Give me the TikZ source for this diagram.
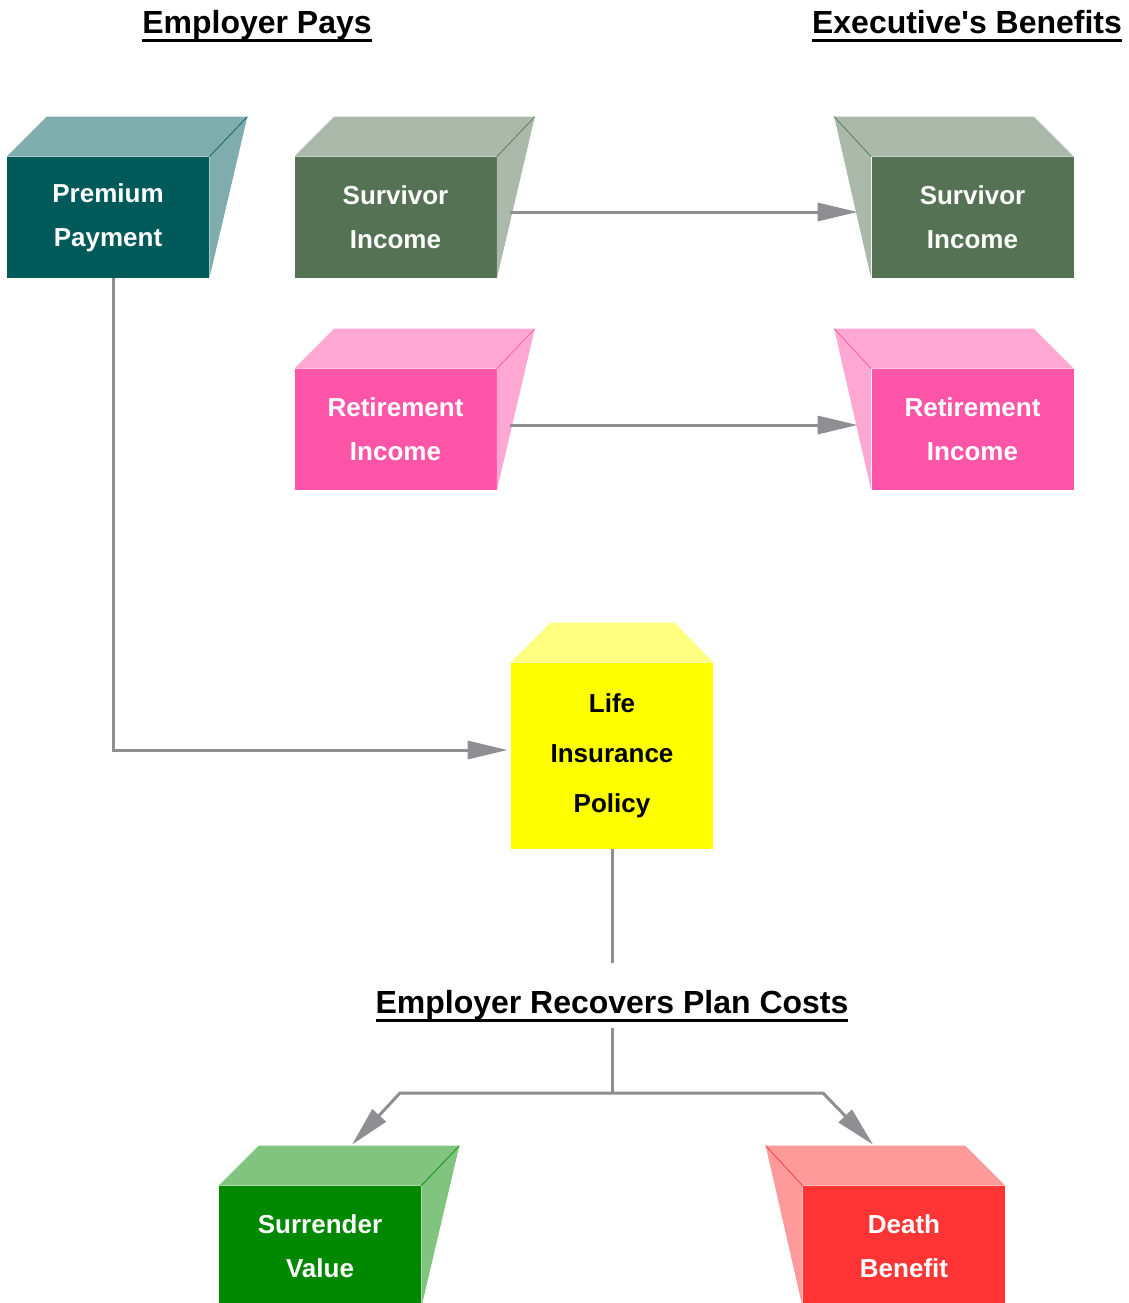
\documentclass[tikz,border=0pt]{standalone}
\usepackage{fontspec}
\setmainfont{Liberation Sans}
\usetikzlibrary{arrows.meta,calc,positioning}
\definecolor{tealfront}{RGB}{0,90,90}
\definecolor{tealtop}{RGB}{127,172,172}
\definecolor{sagefront}{RGB}{85,114,85}
\definecolor{sagetop}{RGB}{170,185,170}
\definecolor{pinkfront}{RGB}{255,85,168}
\definecolor{pinktop}{RGB}{255,168,212}
\definecolor{lifefront}{RGB}{255,255,0}
\definecolor{lifetop}{RGB}{255,255,128}
\definecolor{greenfront}{RGB}{0,136,0}
\definecolor{greentop}{RGB}{128,196,128}
\definecolor{redfront}{RGB}{255,53,53}
\definecolor{redtop}{RGB}{255,154,154}
\definecolor{linegray}{RGB}{142,142,147}
\newcommand{\hdline}[1]{\setbox0\hbox{#1}\rlap{\raisebox{-0.16cm}{\rule{\wd0}{0.06cm}}}\box0}
\tikzset{
    block/.style = {rectangle, inner sep=0pt, 
        minimum height=2.42cm, 
        minimum width=4.04cm, align=center, text=white,
        font=\fontsize{14.8}{25}\selectfont\bfseries},
    heading/.style = {inner sep=0pt, font=\fontsize{18.2}{22}\selectfont\bfseries},
    arrow/.style={draw, linegray, line width=0.06cm, -{Triangle[length=0.8cm,width=0.36cm]}},
    line/.style={draw, linegray, line width=0.06cm}
}
% 3d faces: box leaning right / left
\newcommand{\faceright}[3]{%
    \fill[#2] (#1.north west) -- ++(0.8,0.8) -- ++(4.0,0) -- (#1.north east) -- cycle;
    \fill[#2] (#1.north east) -- ++(0.76,0.8) -- (#1.south east) -- cycle;
    \draw[#3, thin] (#1.north east) -- ++(0.76,0.8);
}
\newcommand{\faceleft}[3]{%
    \fill[#2] (#1.north east) -- ++(-0.8,0.8) -- ++(-4.0,0) -- (#1.north west) -- cycle;
    \fill[#2] (#1.north west) -- ++(-0.74,0.8) -- (#1.south west) -- cycle;
    \draw[#3, thin] (#1.north west) -- ++(-0.74,0.8);
}
\begin{document}
\begin{tikzpicture}[node distance=2cm]
    \useasboundingbox (0,0) rectangle (22.56,-26.06);
    % headings
    \node [heading] (pays) at (5.14,-0.52) {\hdline{Employer\ Pays}};
    \node [heading] (exec) at (19.34,-0.52) {\hdline{Executive\textquotesingle s\ Benefits}};
    \node [heading] (rec) at (12.24,-20.12) {\hdline{Employer\ Recovers\ Plan\ Costs}};
    % boxes
    \node [block, fill=tealfront] (pay) at (2.16,-4.35) {Premium\\Payment};
    \node [block, fill=sagefront, right of=pay, node distance=5.75cm] (survL) {Survivor\\Income};
    \node [block, fill=pinkfront, below of=survL, node distance=4.24cm] (retL) {Retirement\\Income};
    \node [block, fill=sagefront, right of=survL, node distance=11.54cm] (survR) {Survivor\\Income};
    \node [block, fill=pinkfront, right of=retL, node distance=11.54cm] (retR) {Retirement\\Income};
    \node [block, fill=lifefront, text=black, minimum height=3.72cm,
        font=\fontsize{14.8}{28.4}\selectfont\bfseries] (life) at (12.24,-15.12) {Life\\Insurance\\Policy};
    \node [block, fill=greenfront] (surr) at (6.40,-24.93) {Surrender\\Value};
    \node [block, fill=redfront, right of=surr, node distance=11.68cm] (death) {Death\\Benefit};
    \faceright{pay}{tealtop}{tealfront}
    \faceright{survL}{sagetop}{sagefront}
    \faceright{retL}{pinktop}{pinkfront}
    \faceleft{survR}{sagetop}{sagefront}
    \faceleft{retR}{pinktop}{pinkfront}
    \faceright{surr}{greentop}{greenfront}
    \faceleft{death}{redtop}{redfront}
    \fill[lifetop] (life.north west) -- ++(0.8,0.8) -- ++(2.48,0) -- (life.north east) -- cycle;
    % connectors
    \draw[arrow] ([shift={(0.27,0.11)}]survL.east) -- ([shift={(-0.27,0.11)}]survR.west);
    \draw[arrow] ([shift={(0.27,0.09)}]retL.east) -- ([shift={(-0.27,0.09)}]retR.west);
    \draw[arrow] ([xshift=0.1cm]pay.south) |- ([shift={(-0.06,0.12)}]life.west);
    \draw[line] (life.south) -- ([yshift=0.54cm]rec.north);
    \coordinate [below of=rec, node distance=1.74cm] (split);
    \draw[line] ([yshift=-0.12cm]rec.south) -- (split);
    \draw[arrow] (split) -- ++(-4.24,0) -- ([shift={(0.64,0.82)}]surr.north);
    \draw[arrow] (split) -- ++(4.22,0) -- ([shift={(-0.62,0.82)}]death.north);
\end{tikzpicture}
\end{document}
